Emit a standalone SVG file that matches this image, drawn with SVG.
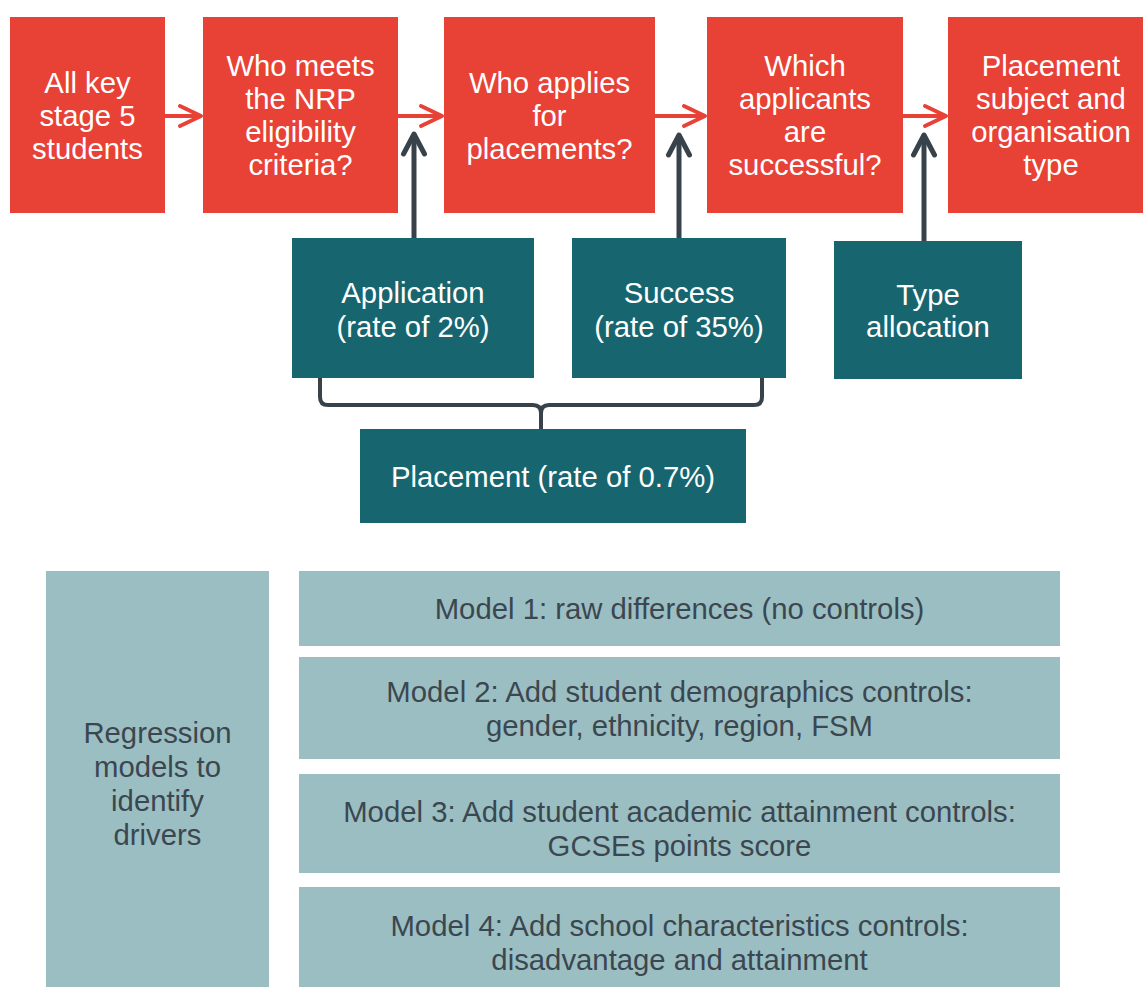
<svg xmlns="http://www.w3.org/2000/svg" width="1143" height="987" viewBox="0 0 1143 987">
<style>
.red{fill:#e84136}
.teal{fill:#17666f}
.light{fill:#9bbec2}
text{font-family:"Liberation Sans",Arial,Helvetica,sans-serif;font-size:29.3px;text-anchor:middle}
.w{fill:#ffffff}
.d{fill:#3b4750}
.ra{stroke:#e84136;stroke-width:4;fill:none}
.da{stroke:#37424a;stroke-width:5;fill:none}
.br{stroke:#37424a;stroke-width:4;fill:none;stroke-linejoin:round}
</style>
<defs>
<marker id="hr" markerUnits="userSpaceOnUse" viewBox="-26 -14 30 28" refX="0" refY="0" markerWidth="30" markerHeight="28" orient="auto">
<path d="M-21,-10 L0,0 L-21,10" fill="none" stroke="#e84136" stroke-width="4" stroke-linecap="round" stroke-linejoin="round"/>
</marker>
<marker id="hd" markerUnits="userSpaceOnUse" viewBox="-26 -14 30 28" refX="0" refY="0" markerWidth="30" markerHeight="28" orient="auto">
<path d="M-20,-10.5 L0,0 L-20,10.5" fill="none" stroke="#37424a" stroke-width="5" stroke-linecap="round" stroke-linejoin="round"/>
</marker>
</defs>

<g id="connectors">
<line class="ra" x1="165" y1="116" x2="201" y2="116" marker-end="url(#hr)"/>
<line class="ra" x1="398" y1="116" x2="442" y2="116" marker-end="url(#hr)"/>
<line class="ra" x1="655" y1="116" x2="705" y2="116" marker-end="url(#hr)"/>
<line class="ra" x1="903" y1="116" x2="946" y2="116" marker-end="url(#hr)"/>
<line class="da" x1="414" y1="238" x2="414" y2="134" marker-end="url(#hd)"/>
<line class="da" x1="679" y1="238" x2="679" y2="135" marker-end="url(#hd)"/>
<line class="da" x1="924" y1="241" x2="924" y2="135" marker-end="url(#hd)"/>
<path class="br" d="M320,378 V397 Q320,405 328,405 H533 Q541,405 541,413 V429 M762,378 V397 Q762,405 754,405 H549 Q541,405 541,413"/>
</g>

<g id="n1"><rect class="red" x="10" y="17" width="155" height="196"/>
<text class="w" x="87.5" y="93">All key</text><text class="w" x="87.5" y="126">stage 5</text><text class="w" x="87.5" y="159">students</text></g>
<g id="n2"><rect class="red" x="203" y="17" width="195" height="196"/>
<text class="w" x="300.5" y="76">Who meets</text><text class="w" x="300.5" y="109">the NRP</text><text class="w" x="300.5" y="142">eligibility</text><text class="w" x="300.5" y="175">criteria?</text></g>
<g id="n3"><rect class="red" x="444" y="17" width="211" height="196"/>
<text class="w" x="549.5" y="93">Who applies</text><text class="w" x="549.5" y="126">for</text><text class="w" x="549.5" y="159">placements?</text></g>
<g id="n4"><rect class="red" x="707" y="17" width="196" height="196"/>
<text class="w" x="805" y="76">Which</text><text class="w" x="805" y="109">applicants</text><text class="w" x="805" y="142">are</text><text class="w" x="805" y="175">successful?</text></g>
<g id="n5"><rect class="red" x="948" y="17" width="195" height="196"/>
<text class="w" x="1051" y="76">Placement</text><text class="w" x="1051" y="109">subject and</text><text class="w" x="1051" y="142">organisation</text><text class="w" x="1051" y="175">type</text></g>

<g id="application"><rect class="teal" x="292" y="238" width="242" height="140"/>
<text class="w" x="413" y="303">Application</text><text class="w" x="413" y="337">(rate of 2%)</text></g>
<g id="success"><rect class="teal" x="572" y="238" width="214" height="140"/>
<text class="w" x="679" y="303">Success</text><text class="w" x="679" y="337">(rate of 35%)</text></g>
<g id="type"><rect class="teal" x="834" y="241" width="188" height="138"/>
<text class="w" x="928" y="305">Type</text><text class="w" x="928" y="337">allocation</text></g>
<g id="placement"><rect class="teal" x="360" y="429" width="386" height="94"/>
<text class="w" x="553" y="487">Placement (rate of 0.7%)</text></g>

<g id="regression"><rect class="light" x="46" y="571" width="223" height="416"/>
<text class="d" x="157.5" y="743">Regression</text><text class="d" x="157.5" y="777">models to</text><text class="d" x="157.5" y="811">identify</text><text class="d" x="157.5" y="845">drivers</text></g>
<g id="model1"><rect class="light" x="299" y="571" width="761" height="75"/>
<text class="d" x="679.5" y="619">Model 1: raw differences (no controls)</text></g>
<g id="model2"><rect class="light" x="299" y="657" width="761" height="102"/>
<text class="d" x="679.5" y="702">Model 2: Add student demographics controls:</text><text class="d" x="679.5" y="736">gender, ethnicity, region, FSM</text></g>
<g id="model3"><rect class="light" x="299" y="774" width="761" height="99"/>
<text class="d" x="679.5" y="822">Model 3: Add student academic attainment controls:</text><text class="d" x="679.5" y="856">GCSEs points score</text></g>
<g id="model4"><rect class="light" x="299" y="887" width="761" height="100"/>
<text class="d" x="679.5" y="936">Model 4: Add school characteristics controls:</text><text class="d" x="679.5" y="970">disadvantage and attainment</text></g>
</svg>
